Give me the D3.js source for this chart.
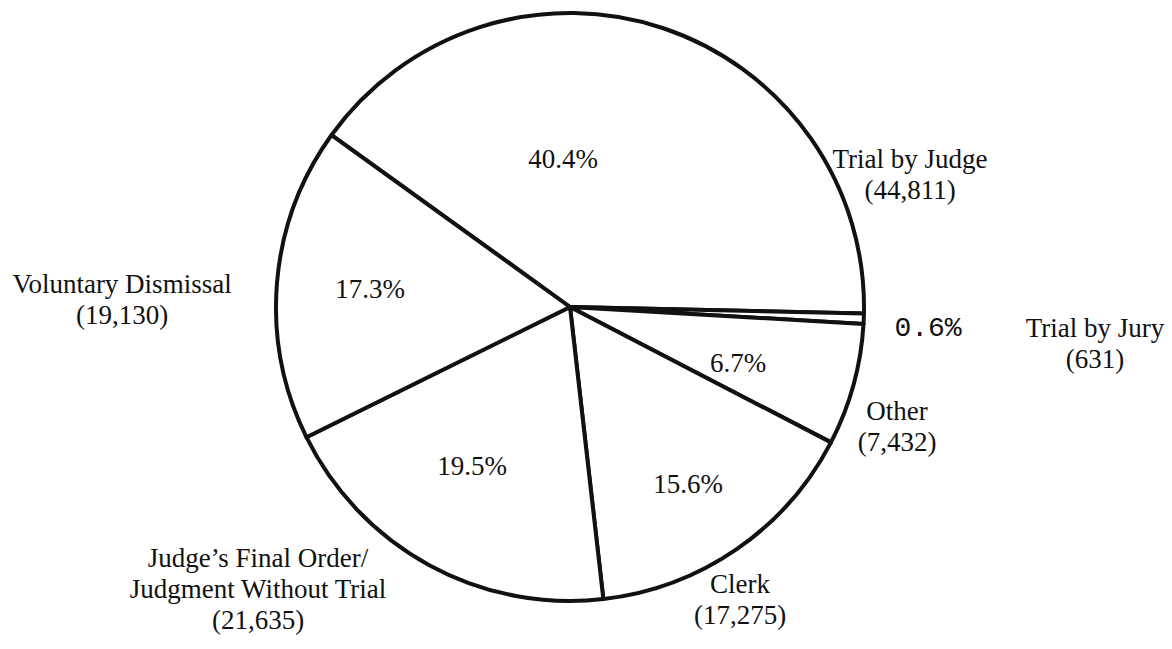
<!DOCTYPE html>
<html>
<head>
<meta charset="utf-8">
<script src="https://cdn.jsdelivr.net/npm/d3@7"></script>
<style>
  body { margin: 0; background: #fff; }
  svg { display: block; }
</style>
</head>
<body>
<div id="chart"></div>
<script>

// slices, clockwise from the Trial by Judge spoke
let categories = ["Trial by Judge", "Trial by Jury", "Other", "Clerk", "Judge's Final Order/Judgment Without Trial", "Voluntary Dismissal"];
let counts = [44811, 631, 7432, 17275, 21635, 19130];
let percents = ["40.4%", "0.6%", "6.7%", "15.6%", "19.5%", "17.3%"];
let nameLines = [
    ["Trial by Judge"],
    ["Trial by Jury"],
    ["Other"],
    ["Clerk"],
    ["Judge\u2019s Final Order/", "Judgment Without Trial"],
    ["Voluntary Dismissal"]
];

let serif = "'Liberation Serif'";
let mono = "'Liberation Mono'";

// where the labels sit, relative to the pie centre
let pctPos = [[-7, -148], [358, 19], [168, 56], [118, 177], [-98, 159], [-200, -18]];
let namePos = [[340, -148], [525, 21], [327, 104], [170, 277], [-312, 251], [-448, -23]];

let width = 1172, height = 649;
let cx = 570, cy = 307, radius = 294;

let svg = d3.select("#chart").append("svg")
    .attr("width", width)
    .attr("height", height);

let g = svg.append("g")
    .attr("transform", "translate(" + cx + "," + cy + ")");

let start = -54.2 * Math.PI / 180;
let pie = d3.pie()
    .sort(null)
    .value(d => d)
    .startAngle(start)
    .endAngle(start + 2 * Math.PI);

let arc = d3.arc()
    .innerRadius(0)
    .outerRadius(radius);

let arcs = pie(counts);

g.selectAll("path.slice")
    .data(arcs)
    .enter().append("path")
    .attr("class", "slice")
    .attr("d", arc)
    .attr("fill", "#fff")
    .attr("stroke", "#111")
    .attr("stroke-width", 4)
    .attr("stroke-linejoin", "round");

// percentages inside
g.selectAll("text.pct")
    .data(arcs)
    .enter().append("text")
    .attr("class", "pct")
    .attr("text-anchor", "middle")
    .style("font-family", (d, i) => i === 1 ? mono : serif)
    .style("font-size", (d, i) => i === 1 ? "28px" : "27px")
    .attr("fill", "#111")
    .attr("x", (d, i) => pctPos[i][0])
    .attr("y", (d, i) => pctPos[i][1])
    .attr("dy", "0.35em")
    .text((d, i) => percents[i]);

// category names and counts outside
let names = g.selectAll("text.name")
    .data(arcs)
    .enter().append("text")
    .attr("class", "name")
    .attr("text-anchor", "middle")
    .style("font-family", serif)
    .style("font-size", "27px")
    .attr("fill", "#111")
    .attr("transform", (d, i) => "translate(" + namePos[i][0] + "," + namePos[i][1] + ")");

names.each(function(d, i) {
    let t = d3.select(this);
    let lines = nameLines[i].concat(["(" + d3.format(",")(counts[i]) + ")"]);
    lines.forEach((s, j) => {
        t.append("tspan")
            .attr("x", 0)
            .attr("y", j * 31)
            .attr("dy", "0.35em")
            .text(s);
    });
});

</script>
</body>
</html>
